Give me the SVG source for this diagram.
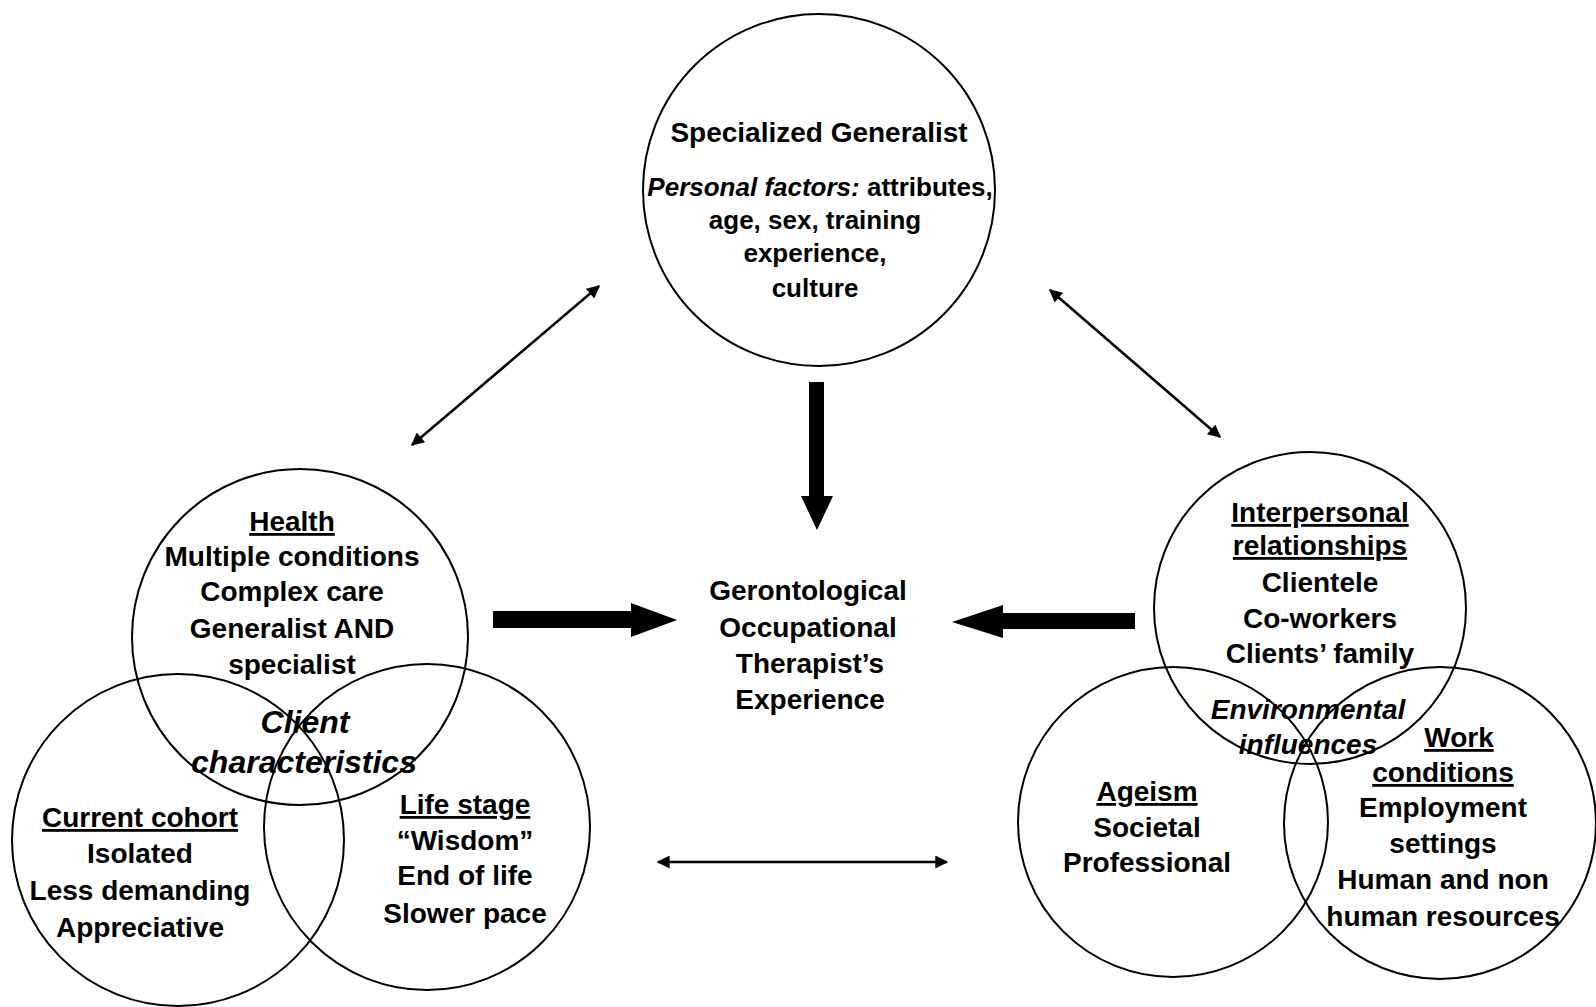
<svg xmlns="http://www.w3.org/2000/svg" width="1596" height="1007" viewBox="0 0 1596 1007">
<defs>
<style>
text{font-family:"Liberation Sans",Arial,sans-serif;font-weight:bold;font-size:28px;fill:#000;text-anchor:middle}
.s26{font-size:26px}
.s32{font-size:32px}
.it{font-style:italic}
.u{text-decoration:underline}
.c{fill:none;stroke:#000;stroke-width:2}
.thin{stroke:#000;stroke-width:2.6;fill:none;marker-start:url(#ah);marker-end:url(#ah)}
.thick{fill:#000;stroke:none}
</style>
<marker id="ah" viewBox="0 0 10 10" refX="9" refY="5" markerWidth="6" markerHeight="5" orient="auto-start-reverse" markerUnits="strokeWidth">
<path d="M0,0 L10,5 L0,10 z" fill="#000"/>
</marker>
</defs>
<rect width="1596" height="1007" fill="#fff"/>

<g id="connectors">
<line class="thin" x1="412" y1="445" x2="599" y2="286"/>
<line class="thin" x1="1050" y1="290" x2="1220" y2="437"/>
<line class="thin" x1="658" y1="862" x2="947" y2="862"/>
<polygon class="thick" points="809,382 824,382 824,496 833,496 817,530 801,496 809,496"/>
<polygon class="thick" points="493,611 631,611 631,603 677,620 631,637 631,628 493,628"/>
<polygon class="thick" points="1135,613 1003,613 1003,605 952,622 1003,638 1003,629 1135,629"/>
</g>

<g id="node-specialized-generalist">
<circle class="c" cx="819" cy="190" r="176"/>
<text x="819" y="142">Specialized Generalist</text>
<text class="s26" x="820" y="196"><tspan class="it">Personal factors:</tspan> attributes,</text>
<text class="s26" x="815" y="229">age, sex, training</text>
<text class="s26" x="815" y="262">experience,</text>
<text class="s26" x="815" y="297">culture</text>
</g>

<g id="node-experience">
<text x="808" y="600">Gerontological</text>
<text x="808" y="637">Occupational</text>
<text x="810" y="673">Therapist’s</text>
<text x="810" y="709">Experience</text>
</g>

<g id="node-client-characteristics">
<circle class="c" cx="300" cy="637" r="168"/>
<circle class="c" cx="178" cy="840" r="166"/>
<circle class="c" cx="427" cy="827" r="163"/>
<text class="u" x="292" y="531">Health</text>
<text x="292" y="566">Multiple conditions</text>
<text x="292" y="601">Complex care</text>
<text x="292" y="638">Generalist AND</text>
<text x="292" y="674">specialist</text>
<text class="it s32" x="305" y="733">Client</text>
<text class="it s32" x="304" y="773">characteristics</text>
<text class="u" x="140" y="827">Current cohort</text>
<text x="140" y="863">Isolated</text>
<text x="140" y="900">Less demanding</text>
<text x="140" y="937">Appreciative</text>
<text class="u" x="465" y="814">Life stage</text>
<text x="465" y="850">“Wisdom”</text>
<text x="465" y="885">End of life</text>
<text x="465" y="923">Slower pace</text>
</g>

<g id="node-environmental-influences">
<circle class="c" cx="1310" cy="608" r="156"/>
<circle class="c" cx="1173" cy="822" r="155"/>
<circle class="c" cx="1440" cy="823" r="156"/>
<text class="u" x="1320" y="522">Interpersonal</text>
<text class="u" x="1320" y="555">relationships</text>
<text x="1320" y="592">Clientele</text>
<text x="1320" y="628">Co-workers</text>
<text x="1320" y="663">Clients’ family</text>
<text class="it" x="1308" y="719">Environmental</text>
<text class="it" x="1308" y="754">influences</text>
<text class="u" x="1147" y="801">Ageism</text>
<text x="1147" y="837">Societal</text>
<text x="1147" y="872">Professional</text>
<text class="u" x="1459" y="747">Work</text>
<text class="u" x="1443" y="782">conditions</text>
<text x="1443" y="817">Employment</text>
<text x="1443" y="853">settings</text>
<text x="1443" y="889">Human and non</text>
<text x="1443" y="926">human resources</text>
</g>
</svg>
